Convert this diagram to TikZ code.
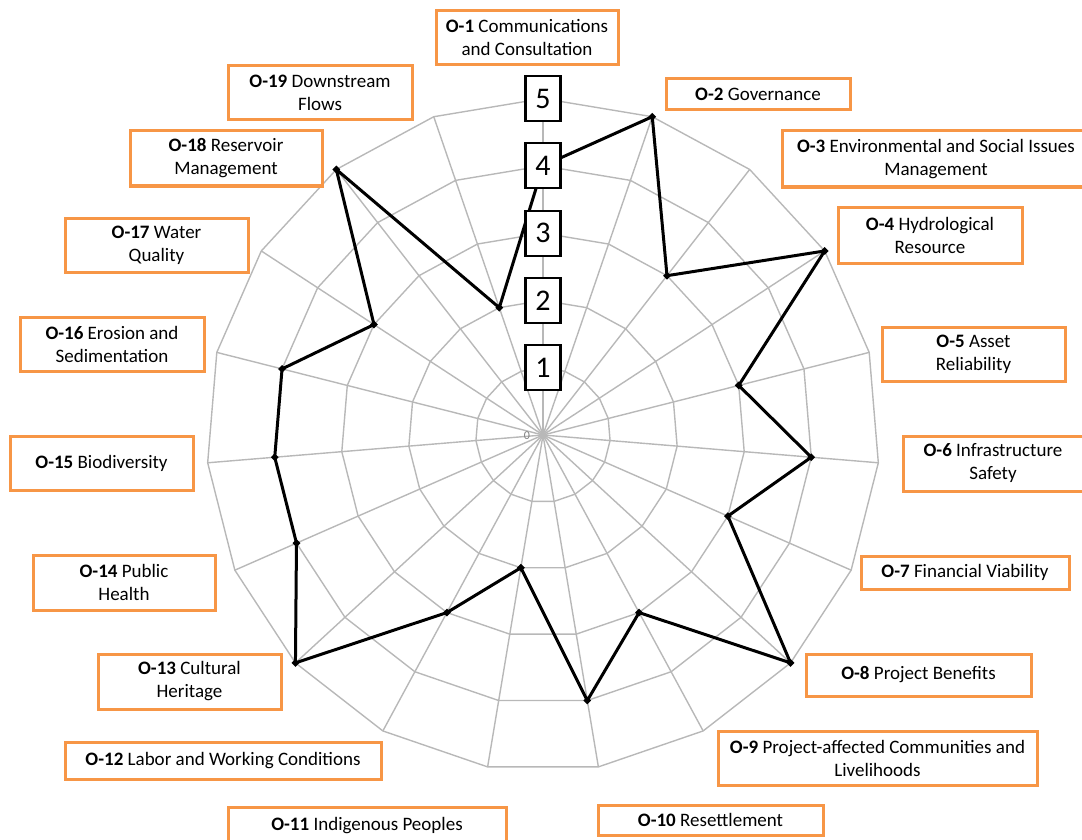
\documentclass[tikz,border=0pt]{standalone}
\usepackage{fontspec}
\setmainfont{Carlito}
\usepackage{tikz}
\usetikzlibrary{shapes.geometric}
\definecolor{boxorange}{HTML}{F79646}
\definecolor{gridgray}{HTML}{B8B8B8}
\newcommand\lvl{67.3}

\begin{document}
\begin{tikzpicture}[x=1pt, y=-1pt,
	obox/.style = {draw=boxorange, line width=3pt, fill=white, align=center, inner sep=0pt, font=\fontsize{19}{23}\selectfont},
	lvlbox/.style = {draw, line width=2.2pt, fill=white, minimum width=35pt, minimum height=45pt, inner sep=0pt, font=\fontsize{30}{30}\selectfont},
	gridline/.style = {draw=gridgray, line width=1.4pt},
	dataline/.style = {draw=black, line width=3pt, line join=round},
	pt/.style = {diamond, fill=black, inner sep=0pt, minimum size=8pt}]
	\useasboundingbox (0,0) rectangle (1082,840);
	\begin{scope}[shift={(543,435)}]
		% web
		\foreach \r in {1,...,5}
			\draw[gridline] (0,{-\r*\lvl}) \foreach \k in {1,...,18}{ -- ({\r*\lvl*sin(\k*360/19)},{-\r*\lvl*cos(\k*360/19)}) } -- cycle;
		\foreach \k in {0,...,18}
			\draw[gridline] (0,0) -- ({5*\lvl*sin(\k*360/19)},{-5*\lvl*cos(\k*360/19)});
		\node[text=gray, font=\fontsize{12}{12}\selectfont] (zero) at (-16,1) {0};
		% scores
		\foreach \v [count=\k] in {4,5,3,5,3,4,3,5,3,4,2,3,5,4,4,4,3,5,2}
			\coordinate (p\k) at ({\v*\lvl*sin((\k-1)*360/19)},{-\v*\lvl*cos((\k-1)*360/19)});
		\draw[dataline] (p1) \foreach \k in {2,...,19}{ -- (p\k) } -- cycle;
		\foreach \k in {1,...,19}
			\node[pt] (d\k) at (p\k) {};
		\foreach \n in {1,...,5}
			\node[lvlbox] (l\n) at (0,{-\n*\lvl}) {\n};
	\end{scope}
	% labels
	\node[obox, minimum width=182pt, minimum height=54pt] (o1) at (527,38) {\textbf{O-1} Communications\\and Consultation};
	\node[obox, minimum width=184pt, minimum height=31pt] (o2) at (758,94.5) {\textbf{O-2} Governance};
	\node[obox, minimum width=308pt, minimum height=56pt] (o3) at (936,159) {\textbf{O-3} Environmental and Social Issues\\Management};
	\node[obox, minimum width=184pt, minimum height=56pt] (o4) at (930,235) {\textbf{O-4} Hydrological\\Resource};
	\node[obox, minimum width=183pt, minimum height=54pt] (o5) at (973.5,354) {\textbf{O-5} Asset\\Reliability};
	\node[obox, minimum width=180pt, minimum height=55pt] (o6) at (993,463.5) {\textbf{O-6} Infrastructure\\Safety};
	\node[obox, minimum width=208pt, minimum height=33pt] (o7) at (965,572.5) {\textbf{O-7} Financial Viability};
	\node[obox, minimum width=225pt, minimum height=42pt] (o8) at (918.5,675) {\textbf{O-8} Project Benefits};
	\node[obox, minimum width=319pt, minimum height=54pt] (o9) at (877.5,758) {\textbf{O-9} Project-affected Communities and\\Livelihoods};
	\node[obox, minimum width=225pt, minimum height=30pt] (o10) at (710.5,820) {\textbf{O-10} Resettlement};
	\node[obox, minimum width=278pt, minimum height=38pt] (o11) at (367,826) {\textbf{O-11} Indigenous Peoples};
	\node[obox, minimum width=316pt, minimum height=37pt] (o12) at (223,760.5) {\textbf{O-12} Labor and Working Conditions};
	\node[obox, minimum width=183pt, minimum height=55pt] (o13) at (189.5,681.5) {\textbf{O-13} Cultural\\Heritage};
	\node[obox, minimum width=182pt, minimum height=55pt] (o14) at (124,582.5) {\textbf{O-14} Public\\Health};
	\node[obox, minimum width=183pt, minimum height=54pt] (o15) at (101.5,463) {\textbf{O-15} Biodiversity};
	\node[obox, minimum width=184pt, minimum height=54pt] (o16) at (112,344) {\textbf{O-16} Erosion and\\Sedimentation};
	\node[obox, minimum width=183pt, minimum height=54pt] (o17) at (156.5,245) {\textbf{O-17} Water\\Quality};
	\node[obox, minimum width=192pt, minimum height=55pt] (o18) at (226,158.5) {\textbf{O-18} Reservoir\\Management};
	\node[obox, minimum width=184pt, minimum height=54pt] (o19) at (320,93) {\textbf{O-19} Downstream\\Flows};
\end{tikzpicture}
\end{document}
